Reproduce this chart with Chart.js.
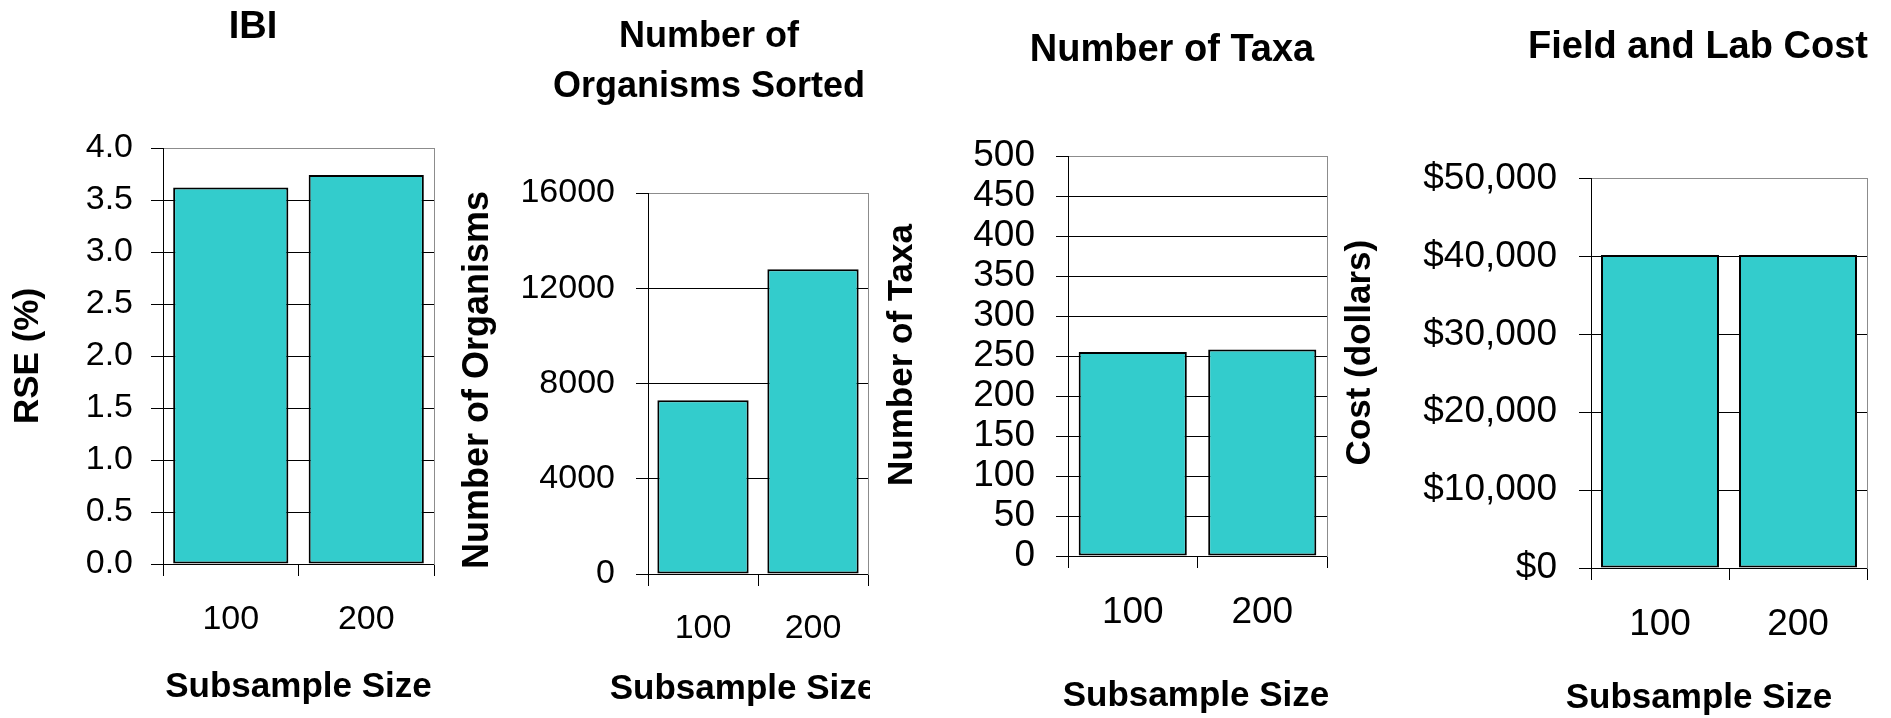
<!DOCTYPE html>
<html>
<head>
<meta charset="utf-8">
<title>Subsample size comparison</title>
<script src="https://cdn.jsdelivr.net/npm/chart.js@4.4.1/dist/chart.umd.min.js"></script>
<style>
  html, body { margin: 0; padding: 0; background: #fff; overflow: hidden; }
  #board { position: relative; width: 1891px; height: 718px; overflow: hidden; background: #fff; }
  #board canvas { position: absolute; top: 0; }
</style>
</head>
<body>
<div id="board">
  <canvas id="ibi" width="450" height="718" style="left:0px"></canvas>
  <canvas id="organisms" width="455" height="718" style="left:450px"></canvas>
  <canvas id="taxa" width="506" height="718" style="left:870px"></canvas>
  <canvas id="cost" width="638" height="718" style="left:1340px"></canvas>
</div>
<script>
// Categories and measured values per subsample size
const subsampleSizes = ['100', '200'];
const rsePercent = [3.62, 3.74];
const organismsSorted = [7300, 12800];
const taxaCount = [255, 258];
const fieldLabCost = [40200, 40200];

// Value-axis tick labels
const rseTicks = ['0.0', '0.5', '1.0', '1.5', '2.0', '2.5', '3.0', '3.5', '4.0'];
const organismTicks = ['0', '4000', '8000', '12000', '16000'];
const taxaTicks = ['0', '50', '100', '150', '200', '250', '300', '350', '400', '450', '500'];
const costTicks = ['$0', '$10,000', '$20,000', '$30,000', '$40,000', '$50,000'];

const FONT = "'Liberation Sans', Arial, Helvetica, sans-serif";
Chart.defaults.font.family = FONT;
Chart.defaults.color = '#000';

const BAR_FILL = '#33cccc';
const FRAME_GREY = '#8c8c8c';

// Axis captions, placed relative to the plot area
const axisCaptions = {
  id: 'axisCaptions',
  afterDraw(chart, args, opts) {
    const { ctx, chartArea: a } = chart;
    ctx.save();
    ctx.fillStyle = '#000';
    ctx.textAlign = 'center';
    ctx.textBaseline = 'middle';

    ctx.save();
    if (opts.x.clipRight != null) {
      ctx.beginPath();
      ctx.rect(0, 0, a.right + opts.x.clipRight, chart.height);
      ctx.clip();
    }
    ctx.font = `bold ${opts.x.size}px ${FONT}`;
    ctx.fillText(opts.x.text, (a.left + a.right) / 2 + opts.x.shift, a.bottom + opts.x.gap);
    ctx.restore();

    ctx.font = `bold ${opts.y.size}px ${FONT}`;
    ctx.translate(a.left - opts.y.gap, (a.top + a.bottom) / 2 + opts.y.shift);
    ctx.rotate(-Math.PI / 2);
    ctx.fillText(opts.y.text, 0, 0);
    ctx.restore();
  }
};

function makePanel(id, cfg) {
  const tickValues = cfg.ticks.map(t => parseFloat(t.replace(/[$,]/g, '')));
  const top = tickValues[tickValues.length - 1];
  return new Chart(document.getElementById(id), {
    type: 'bar',
    data: {
      labels: subsampleSizes,
      datasets: [{
        data: cfg.values,
        backgroundColor: BAR_FILL,
        borderColor: '#000',
        borderWidth: 2,
        borderSkipped: false,
        categoryPercentage: 1,
        barPercentage: cfg.barPct,
        yAxisID: 'y'
      }]
    },
    options: {
      responsive: false,
      animation: false,
      events: [],
      layout: { padding: { left: cfg.padLeft, right: cfg.padRight, top: 0, bottom: 0 } },
      plugins: {
        legend: { display: false },
        tooltip: { enabled: false },
        title: {
          display: true,
          text: cfg.title,
          color: '#000',
          font: { size: cfg.titleSize, weight: 'bold', lineHeight: cfg.titleLine },
          padding: { top: cfg.titleTop, bottom: cfg.titleGap }
        },
        axisCaptions: cfg.captions
      },
      scales: {
        x: {
          offset: true,
          grid: { offset: true, drawOnChartArea: false, drawTicks: true, tickLength: 12, color: '#000', lineWidth: 1 },
          border: { color: '#000', width: 1 },
          ticks: { font: { size: cfg.xTickSize }, padding: cfg.xTickPad, maxRotation: 0, minRotation: 0, autoSkip: false },
          afterFit: s => { s.height = cfg.xHeight; }
        },
        y: {
          position: 'left',
          min: 0,
          max: top,
          grid: {
            color: c => (c.tick && c.tick.value === top ? FRAME_GREY : '#000'),
            tickColor: '#000',
            tickLength: 12,
            lineWidth: 1
          },
          border: { color: '#000', width: 1 },
          ticks: {
            stepSize: tickValues[1] - tickValues[0],
            autoSkip: false,
            font: { size: cfg.yTickSize },
            padding: cfg.yTickPad,
            callback: v => {
              const k = tickValues.indexOf(v);
              return k >= 0 ? cfg.ticks[k] : '';
            }
          },
          afterFit: s => { s.width = cfg.yWidth; }
        },
        // right-hand edge of the plot frame
        frame: {
          position: 'right',
          grid: { drawOnChartArea: false, drawTicks: false },
          ticks: { display: false },
          border: { color: FRAME_GREY, width: 1 },
          afterFit: s => { s.width = cfg.rightWidth; }
        }
      }
    },
    plugins: [axisCaptions]
  });
}

makePanel('ibi', {
  title: 'IBI', titleSize: 38, titleLine: 1.2, titleTop: 4.8, titleGap: 97.6,
  values: rsePercent, ticks: rseTicks, barPct: 0.85,
  padLeft: 71, padRight: 15, yWidth: 92, rightWidth: 1, xHeight: 154,
  xTickSize: 34, xTickPad: 23.6, yTickSize: 34, yTickPad: 18,
  captions: {
    x: { text: 'Subsample Size', size: 35, shift: 0, gap: 123 },
    y: { text: 'RSE (%)', size: 35, shift: 0, gap: 135 }
  }
});

makePanel('organisms', {
  title: ['Number of', 'Organisms Sorted'], titleSize: 36, titleLine: 1.39, titleTop: 12, titleGap: 81,
  values: organismsSorted, ticks: organismTicks, barPct: 0.83,
  padLeft: 65, padRight: 2, yWidth: 133, rightWidth: 35, xHeight: 144,
  xTickSize: 34, xTickPad: 22.6, yTickSize: 34, yTickPad: 21,
  captions: {
    x: { text: 'Subsample Size', size: 35, shift: -15, gap: 115, clipRight: 2 },
    y: { text: 'Number of Organisms', size: 36, shift: -3.5, gap: 170 }
  }
});

makePanel('taxa', {
  title: 'Number of Taxa', titleSize: 38, titleLine: 1.2, titleTop: 27.7, titleGap: 82.7,
  values: taxaCount, ticks: taxaTicks, barPct: 0.835,
  padLeft: 100, padRight: 2, yWidth: 98, rightWidth: 47, xHeight: 162,
  xTickSize: 37, xTickPad: 22.8, yTickSize: 37, yTickPad: 21,
  captions: {
    x: { text: 'Subsample Size', size: 35, shift: -1.5, gap: 140 },
    y: { text: 'Number of Taxa', size: 35, shift: -1, gap: 166 }
  }
});

makePanel('cost', {
  title: 'Field and Lab Cost', titleSize: 38, titleLine: 1.2, titleTop: 25.2, titleGap: 107.8,
  values: fieldLabCost, ticks: costTicks, barPct: 0.855,
  padLeft: 80, padRight: 2, yWidth: 171, rightWidth: 109, xHeight: 150,
  xTickSize: 37, xTickPad: 22.8, yTickSize: 37, yTickPad: 22,
  captions: {
    x: { text: 'Subsample Size', size: 35, shift: -30, gap: 130 },
    y: { text: 'Cost (dollars)', size: 35, shift: -20.7, gap: 231 }
  }
});
</script>
</body>
</html>
